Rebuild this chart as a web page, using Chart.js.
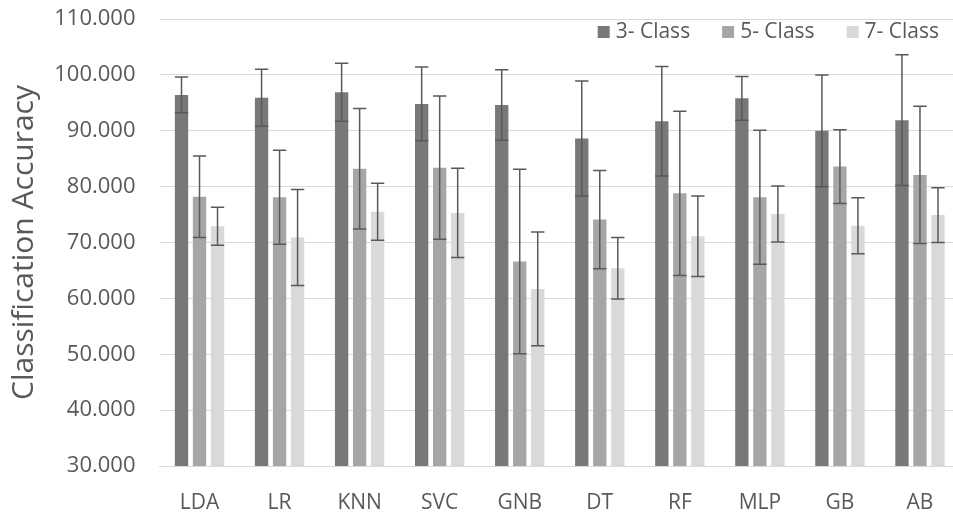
<!DOCTYPE html>
<html>
<head>
<meta charset="utf-8">
<script src="https://cdn.jsdelivr.net/npm/chart.js@4.4.1/dist/chart.umd.min.js"></script>
<style>
  html, body { margin: 0; padding: 0; background: #ffffff; overflow: hidden; }
  #wrap { width: 953px; height: 512px; overflow: hidden; }
  canvas { display: block; }
</style>
</head>
<body>
<div id="wrap"><canvas id="c" width="960" height="512"></canvas></div>
<script>
// Classifiers compared
const models = ['LDA', 'LR', 'KNN', 'SVC', 'GNB', 'DT', 'RF', 'MLP', 'GB', 'AB'];

// Mean accuracy per classification task
const acc3 = [96.4, 95.9, 96.9, 94.8, 94.6, 88.6, 91.7, 95.8, 90.0, 91.9];
const acc5 = [78.2, 78.1, 83.2, 83.4, 66.6, 74.1, 78.8, 78.1, 83.6, 82.1];
const acc7 = [72.9, 70.9, 75.5, 75.3, 61.7, 65.4, 71.1, 75.1, 73.0, 74.9];

// Standard deviation (error bar half-length)
const sd3 = [3.2, 5.1, 5.2, 6.6, 6.3, 10.3, 9.8, 3.9, 10.0, 11.7];
const sd5 = [7.3, 8.4, 10.8, 12.8, 16.5, 8.8, 14.7, 12.0, 6.6, 12.3];
const sd7 = [3.4, 8.6, 5.1, 8.0, 10.2, 5.5, 7.2, 5.0, 5.0, 4.9];

const seriesNames = ['3- Class', '5- Class', '7- Class'];
const yTicks = [30, 40, 50, 60, 70, 80, 90, 100, 110];

const FONT = "'Open Sans', 'DejaVu Sans', sans-serif";
const TEXT = '#595959';

// Draws symmetric error bars with caps on top of each bar
const errorBars = {
  id: 'errorBars',
  afterDatasetsDraw(chart) {
    const ctx = chart.ctx;
    const y = chart.scales.y;
    ctx.save();
    ctx.strokeStyle = '#595959';
    ctx.lineWidth = 1.5;
    chart.data.datasets.forEach((ds, i) => {
      const meta = chart.getDatasetMeta(i);
      meta.data.forEach((bar, j) => {
        const v = ds.data[j];
        const e = ds.errors[j];
        const yt = y.getPixelForValue(v + e);
        const yb = y.getPixelForValue(v - e);
        const half = bar.width / 2;
        ctx.beginPath();
        ctx.moveTo(bar.x, yt);
        ctx.lineTo(bar.x, yb);
        ctx.moveTo(bar.x - half, yt);
        ctx.lineTo(bar.x + half, yt);
        ctx.moveTo(bar.x - half, yb);
        ctx.lineTo(bar.x + half, yb);
        ctx.stroke();
      });
    });
    ctx.restore();
  }
};

// Legend laid over the top-right corner of the plot area
const insetLegend = {
  id: 'insetLegend',
  afterDraw(chart) {
    const ctx = chart.ctx;
    const area = chart.chartArea;
    const box = 12, gap = 6, itemGap = 32;
    const cy = area.top + 13;
    ctx.save();
    ctx.font = '21px ' + FONT;
    ctx.textBaseline = 'middle';
    ctx.textAlign = 'left';
    let x = area.right - 21;
    const items = chart.data.datasets.slice().reverse();
    items.forEach(ds => {
      const w = ctx.measureText(ds.label).width;
      const tx = x - w;
      ctx.fillStyle = TEXT;
      ctx.fillText(ds.label, tx, cy);
      ctx.fillStyle = ds.backgroundColor;
      ctx.fillRect(tx - gap - box, cy - box / 2, box, box);
      x = tx - gap - box - itemGap;
    });
    ctx.restore();
  }
};

new Chart(document.getElementById('c'), {
  type: 'bar',
  data: {
    labels: models,
    datasets: [
      { label: seriesNames[0], data: acc3, errors: sd3, backgroundColor: '#787878' },
      { label: seriesNames[1], data: acc5, errors: sd5, backgroundColor: '#a6a6a6' },
      { label: seriesNames[2], data: acc7, errors: sd7, backgroundColor: '#d9d9d9' }
    ]
  },
  options: {
    responsive: false,
    animation: false,
    categoryPercentage: 0.675,
    barPercentage: 0.74,
    layout: { padding: 0 },
    plugins: {
      tooltip: { enabled: false },
      legend: { display: false }
    },
    scales: {
      x: {
        grid: { display: false },
        border: { display: true, color: '#d9d9d9', width: 1 },
        ticks: {
          color: TEXT,
          font: { family: FONT, size: 21 },
          padding: 16,
          maxRotation: 0
        },
        afterFit(s) { s.height = 46; }
      },
      y: {
        min: 30,
        max: 110,
        afterBuildTicks(s) { s.ticks = yTicks.map(v => ({ value: v })); },
        grid: { color: '#d9d9d9', lineWidth: 1, drawTicks: false },
        border: { display: false },
        ticks: {
          color: TEXT,
          font: { family: FONT, size: 22 },
          padding: 24,
          callback: v => Number(v).toFixed(3)
        },
        title: {
          display: true,
          text: 'Classification Accuracy',
          color: TEXT,
          font: { family: FONT, size: 30 },
          padding: { top: 6, bottom: 0 }
        },
        afterFit(s) {
          s.width = 159.5;
          s.paddingTop = 19;
          s.paddingBottom = 0;
        }
      }
    }
  },
  plugins: [errorBars, insetLegend]
});
</script>
</body>
</html>
